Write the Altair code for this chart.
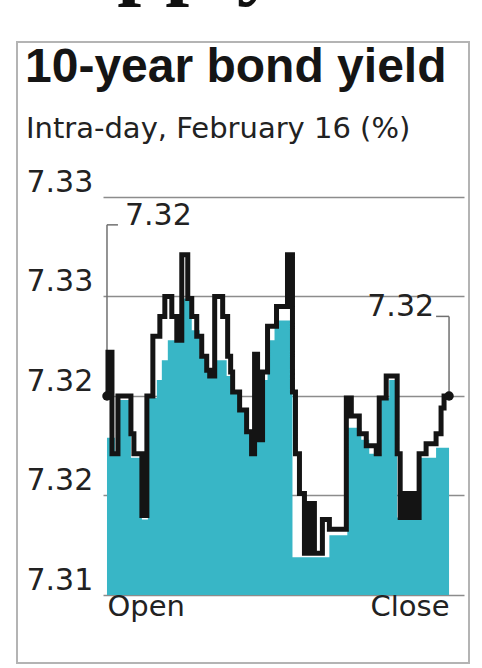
import json
import altair as alt
import pandas as pd

# ---------------- text ----------------
HEADLINE = "supply"
TITLE = "10-year bond yield"
SUBTITLE = "Intra-day, February 16 (%)"

# ---------------- data ----------------
# black intraday path (step line): time position, yield %
LINE_T = [0, 1, 5, 11, 24, 27, 35, 40, 46, 53,
          58, 65, 70, 75, 81, 85, 90, 95, 100, 103,
          108, 116, 121, 124, 126, 133, 140, 145, 148, 151,
          156, 161, 170, 181, 186, 189, 193, 198, 203, 208,
          216, 223, 240, 245, 253, 260, 270, 273, 280, 291,
          294, 297, 301, 305, 309, 313, 320, 330, 335, 338,
          343]
LINE_V = [7.3200, 7.3222, 7.3171, 7.3200, 7.3181, 7.3171, 7.3140, 7.3200, 7.3230, 7.3240,
          7.3250, 7.3240, 7.3228, 7.3271, 7.3249, 7.3240, 7.3230, 7.3220, 7.3213, 7.3210,
          7.3250, 7.3240, 7.3220, 7.3212, 7.3202, 7.3193, 7.3182, 7.3171, 7.3221, 7.3178,
          7.3212, 7.3235, 7.3245, 7.3271, 7.3202, 7.3171, 7.3151, 7.3121, 7.3146, 7.3121,
          7.3138, 7.3133, 7.3199, 7.3190, 7.3181, 7.3175, 7.3171, 7.3199, 7.3210, 7.3171,
          7.3139, 7.3151, 7.3139, 7.3151, 7.3139, 7.3171, 7.3176, 7.3181, 7.3194, 7.3200,
          7.3200]

# teal filled area (step area)
AREA_T = [0, 8, 13, 24, 35, 41, 50, 55, 61, 70,
          76, 85, 93, 100, 103, 108, 120, 126, 133, 140,
          145, 150, 156, 161, 168, 186, 223, 241, 255, 263,
          275, 283, 291, 313, 330, 343]
AREA_V = [7.3179, 7.3171, 7.3198, 7.3169, 7.3138, 7.3199, 7.3208, 7.3218, 7.3228, 7.3238,
          7.3249, 7.3233, 7.3220, 7.3213, 7.3210, 7.3218, 7.3210, 7.3202, 7.3194, 7.3183,
          7.3171, 7.3179, 7.3208, 7.3228, 7.3238, 7.3119, 7.3130, 7.3184, 7.3178, 7.3171,
          7.3199, 7.3208, 7.3139, 7.3169, 7.3174, 7.3174]

Y_TICKS = [7.31, 7.315, 7.32, 7.325, 7.33]
Y_TICK_LABELS = ["7.31", "7.32", "7.32", "7.33", "7.33"]
X_TICKS = [0, 343]
X_TICK_LABELS = ["Open", "Close"]

# open / close markers
END_T = [0, 343]
END_V = [7.3200, 7.3200]

# call-out anchors: label level, elbow end, text position
ANN_LEVEL = [7.3286, 7.3240]
ANN_ELBOW_T = [11, 330]
ANN_TEXT_T = [18, 328]

# ---------------- style ----------------
TEAL = "#38b6c6"
INK = "#141414"
TEXT = "#222222"
GRID = "#8c8c8c"
FRAME = "#b4b4b4"
FONT = "DejaVu Sans"

x_scale = alt.Scale(domain=[-4, 358], nice=False, zero=False)
y_scale = alt.Scale(domain=[Y_TICKS[0], Y_TICKS[-1]], nice=False, zero=False)

step = Y_TICKS[1] - Y_TICKS[0]
y_label_expr = f"{json.dumps(Y_TICK_LABELS)}[round((datum.value - {Y_TICKS[0]}) / {step})]"
x_label_expr = f"datum.value == {X_TICKS[0]} ? '{X_TICK_LABELS[0]}' : '{X_TICK_LABELS[1]}'"

x_axis = alt.Axis(
    values=X_TICKS, labelExpr=x_label_expr,
    labelAlign={"condition": {"test": f"datum.value == {X_TICKS[0]}", "value": "left"}, "value": "right"},
    grid=False, domain=False, ticks=False, labelFlush=False,
    labelFont=FONT, labelFontSize=29, labelColor=TEXT,
    labelPadding=-3, labelBaseline="top",
)
y_axis = alt.Axis(
    values=Y_TICKS, labelExpr=y_label_expr,
    grid=True, gridColor=GRID, gridWidth=1.5,
    domain=False, ticks=False,
    labelAlign="left", labelBaseline="alphabetic", labelPadding=77, labelOffset=-6,
    labelFont=FONT, labelFontSize=30, labelColor=TEXT, labelOverlap=False,
)


def X(field="t"):
    return alt.X(f"{field}:Q", scale=x_scale, axis=x_axis, title=None)


def Y(field="v"):
    return alt.Y(f"{field}:Q", scale=y_scale, axis=y_axis, title=None)


line_df = pd.DataFrame({"t": LINE_T, "v": LINE_V})
area_df = pd.DataFrame({"t": AREA_T, "v": AREA_V})
end_df = pd.DataFrame({"t": END_T, "v": END_V})

conn_rows = []
for t, v, lvl, elbow in zip(END_T, END_V, ANN_LEVEL, ANN_ELBOW_T):
    conn_rows.append({"t": t, "t2": t, "v": v, "v2": lvl})
    conn_rows.append({"t": t, "t2": elbow, "v": lvl, "v2": lvl})
conn_df = pd.DataFrame(conn_rows)

ann_left = pd.DataFrame({"t": [ANN_TEXT_T[0]], "v": [ANN_LEVEL[0]], "label": [f"{END_V[0]:.2f}"]})
ann_right = pd.DataFrame({"t": [ANN_TEXT_T[1]], "v": [ANN_LEVEL[1]], "label": [f"{END_V[1]:.2f}"]})

blank = alt.Data(values=[{}])

frame = alt.Chart(blank).mark_rect(fillOpacity=0, stroke=FRAME, strokeWidth=2).encode(
    x=alt.value(-86), x2=alt.value(366), y=alt.value(-155), y2=alt.value(466)
)

area = alt.Chart(area_df).mark_area(interpolate="step-after", color=TEAL, opacity=1).encode(
    x=X(), y=Y(), y2=alt.datum(Y_TICKS[0])
)

connectors = alt.Chart(conn_df).mark_rule(color="#707070", strokeWidth=1.5).encode(
    x=X(), x2="t2:Q", y=Y(), y2="v2:Q"
)

line = alt.Chart(line_df).mark_line(
    interpolate="step-after", color=INK, strokeWidth=5, strokeJoin="miter", strokeCap="square"
).encode(x=X(), y=Y())

dots = alt.Chart(end_df).mark_circle(size=90, color=INK, opacity=1).encode(x=X(), y=Y())

lab_l = alt.Chart(ann_left).mark_text(
    align="left", baseline="alphabetic", font=FONT, fontSize=30, color=TEXT
).encode(x=X(), y=Y(), text="label:N")
lab_r = alt.Chart(ann_right).mark_text(
    align="right", baseline="alphabetic", font=FONT, fontSize=30, color=TEXT
).encode(x=X(), y=Y(), text="label:N")

headline = alt.Chart(alt.Data(values=[{"s": HEADLINE}])).mark_text(
    align="left", baseline="alphabetic", font="Liberation Serif", fontWeight="bold",
    fontSize=86, color="#111111"
).encode(x=alt.value(-67), y=alt.value(-209), text="s:N")

title = alt.Chart(alt.Data(values=[{"s": TITLE}])).mark_text(
    align="left", baseline="alphabetic", font="Liberation Sans", fontWeight="bold",
    fontSize=48, color="#151515"
).encode(x=alt.value(-78), y=alt.value(-115), text="s:N")

subtitle = alt.Chart(alt.Data(values=[{"s": SUBTITLE}])).mark_text(
    align="left", baseline="alphabetic", font=FONT, fontSize=29, color=TEXT
).encode(x=alt.value(-77), y=alt.value(-59), text="s:N")

chart = alt.layer(
    frame, area, connectors, line, dots, lab_l, lab_r, headline, title, subtitle
).properties(
    width=361, height=398,
    autosize=alt.AutoSizeParams(type="none"),
    padding={"left": 103, "top": 197, "right": 18, "bottom": 73},
    background="white",
).configure_view(strokeWidth=0)

chart.save("out.html", embed_options={"renderer": "svg", "actions": False})
